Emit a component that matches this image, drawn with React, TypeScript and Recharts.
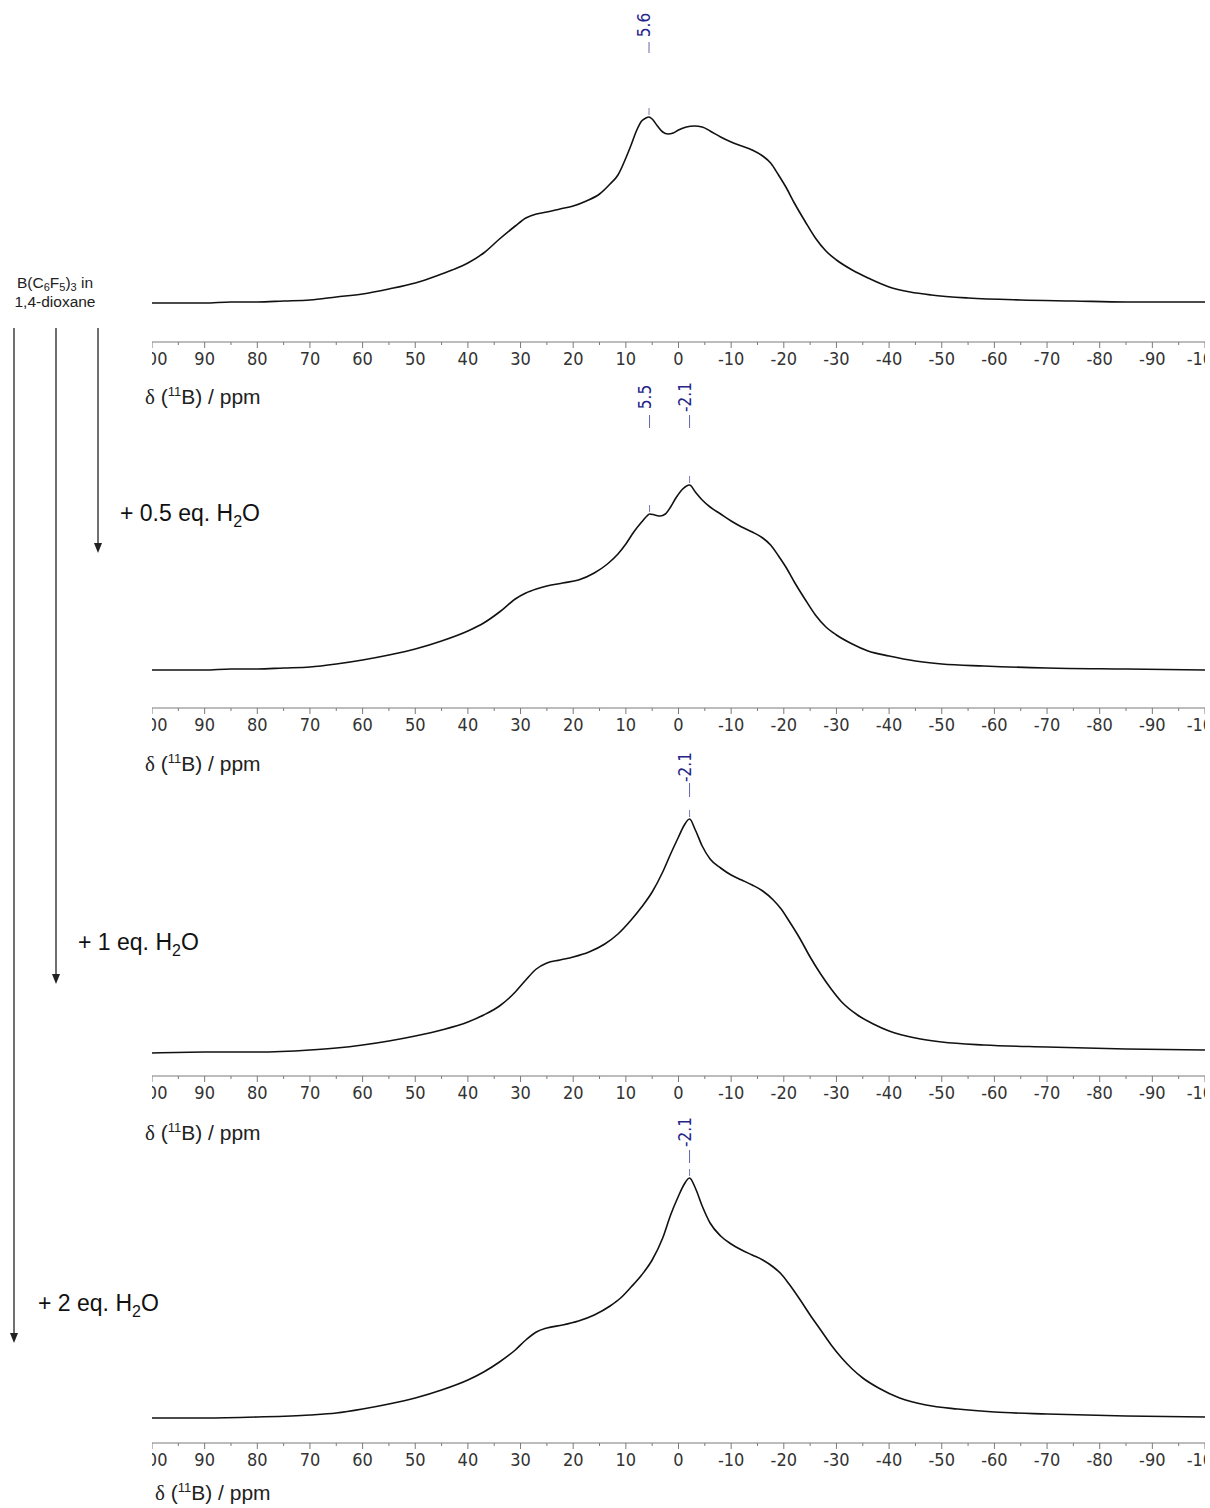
import { LineChart, Line, XAxis, YAxis, ReferenceLine, ReferenceDot } from "recharts";

// 11B NMR spectra of B(C6F5)3 in 1,4-dioxane with increasing amounts of water.
// Chemical shift in ppm, intensity in arbitrary units above the baseline.

const PPM_TICKS = [
  100, 95, 90, 85, 80, 75, 70, 65, 60, 55, 50, 45, 40, 35, 30, 25, 20, 15, 10, 5, 0,
  -5, -10, -15, -20, -25, -30, -35, -40, -45, -50, -55, -60, -65, -70, -75, -80, -85, -90, -95, -100,
];

// neat B(C6F5)3
const SHIFT_A = [100, 95, 90, 85, 80, 75, 70, 65, 60, 55, 50, 46, 43, 40, 37, 34, 31, 29, 27, 25, 22.5, 20, 17.5, 15, 13, 11.5, 10, 9, 8, 7, 6.2, 5.6, 5, 4, 3, 2, 1, 0, -1.5, -3, -4.5, -6, -8, -10, -12, -14, -16, -17.5, -19, -20.5, -22, -24, -26, -28, -30, -33, -36, -40, -44, -48, -55, -65, -75, -85, -100];
const INT_A = [0, 0, 0, 1, 1, 2, 3, 6, 9, 14, 20, 27, 33, 40, 50, 64, 77, 85, 89, 91, 94, 97, 102, 109, 119, 128, 145, 158, 172, 182, 185, 186, 184, 177, 171, 169, 170, 173, 176, 177, 176, 172, 166, 161, 157, 153, 147, 140, 128, 115, 100, 82, 65, 52, 43, 33, 25, 16, 11, 8, 5, 3, 2, 1, 1];
const PEAKS_A = [5.6];

// + 0.5 eq. H2O
const SHIFT_B = [100, 95, 90, 85, 80, 75, 70, 65, 60, 55, 50, 45, 40, 37, 34, 31, 29, 27, 25, 22, 19, 16, 13.5, 11.5, 10, 8.5, 7, 6, 5.5, 4.5, 3.5, 2.5, 1.5, 0.5, -0.8, -2.1, -3.2, -4.5, -6, -8, -10, -12, -14, -16, -17.5, -19, -20.5, -22, -24, -26, -28, -30, -33, -36, -40, -45, -50, -58, -70, -85, -100];
const INT_B = [0, 0, 0, 1, 1, 2, 3, 6, 10, 15, 21, 29, 39, 47, 58, 71, 77, 81, 84, 87, 90, 97, 106, 116, 126, 138, 148, 154, 156, 155, 154, 156, 163, 172, 181, 185, 178, 170, 163, 156, 149, 143, 138, 132, 125, 114, 102, 88, 71, 55, 43, 35, 26, 19, 14, 9, 6, 4, 2, 1, 0];
const PEAKS_B = [5.5, -2.1];

// + 1 eq. H2O
const SHIFT_C = [100, 90, 80, 70, 65, 60, 55, 50, 45, 40, 37, 34, 31, 29, 27, 25, 22.5, 20, 17, 14, 11.5, 9, 7, 5, 3, 1.5, 0, -1, -2.1, -3.2, -4.5, -6, -8, -10, -12, -14, -16, -18, -19.5, -21, -23, -25, -27, -29, -31, -34, -37, -40, -45, -50, -58, -70, -85, -100];
const INT_C = [-1, 0, 0, 2, 4, 7, 11, 16, 22, 30, 37, 46, 60, 72, 83, 89, 92, 95, 100, 108, 118, 132, 145, 160, 180, 198, 215, 226, 233, 222, 206, 193, 184, 177, 172, 167, 161, 152, 143, 131, 114, 95, 78, 63, 50, 37, 28, 21, 14, 10, 7, 5, 3, 2];
const PEAKS_C = [-2.1];

// + 2 eq. H2O
const SHIFT_D = [100, 90, 80, 70, 65, 60, 55, 50, 45, 40, 37, 34, 31, 29, 27, 25, 22, 19, 16, 13, 11, 9, 7, 5, 3, 1.5, 0, -1, -2.1, -3.2, -4.5, -6, -8, -10, -12, -14, -16, -18, -19.5, -21, -23, -25, -27, -29, -31, -33, -35, -38, -42, -47, -53, -60, -70, -85, -100];
const INT_D = [0, 0, 1, 3, 5, 9, 14, 20, 28, 38, 46, 56, 68, 78, 86, 90, 93, 97, 103, 112, 120, 131, 143, 158, 180, 203, 222, 233, 240, 230, 212, 195, 182, 174, 168, 163, 158, 151, 144, 134, 119, 103, 88, 73, 60, 49, 40, 30, 20, 13, 9, 6, 4, 2, 1];
const PEAKS_D = [-2.1];

const PLOT_LEFT = 152;
const PLOT_WIDTH = 1053;
const AXIS_SPACE = 40;
const LABEL_BLUE = "#24248a";
const TICK_FONT = "'Liberation Sans Narrow', 'DejaVu Sans Condensed', 'Arial Narrow', sans-serif";
const TEXT_FONT = "'Liberation Sans', Arial, sans-serif";

const panels = [
  { shift: SHIFT_A, intensity: INT_A, peaks: PEAKS_A, top: 0, axisY: 342, baseY: 303, textY: 25, lineTop: 42, lineBot: 53 },
  { shift: SHIFT_B, intensity: INT_B, peaks: PEAKS_B, top: 370, axisY: 708, baseY: 670, textY: 397, lineTop: 415, lineBot: 428 },
  { shift: SHIFT_C, intensity: INT_C, peaks: PEAKS_C, top: 740, axisY: 1076, baseY: 1052, textY: 767, lineTop: 783, lineBot: 797 },
  { shift: SHIFT_D, intensity: INT_D, peaks: PEAKS_D, top: 1105, axisY: 1443, baseY: 1418, textY: 1132, lineTop: 1150, lineBot: 1163 },
];

function AxisTick(props: any) {
  const { x, y, payload } = props;
  const v = payload.value as number;
  const major = v % 10 === 0;
  return (
    <g>
      <line x1={x} x2={x} y1={y} y2={y + (major ? 6 : 3)} stroke="#7a7a7a" strokeWidth={1} />
      {major && (
        <text x={x} y={y + 23} textAnchor="middle" fontSize={18} fontFamily={TICK_FONT} fill="#333">
          {v}
        </text>
      )}
    </g>
  );
}

function Spectrum({ panel }: { panel: (typeof panels)[number] }) {
  const { shift, intensity, peaks, top, axisY, baseY, textY, lineTop, lineBot } = panel;
  const data = shift.map((ppm, i) => ({ ppm, value: intensity[i] }));
  const height = axisY - top + AXIS_SPACE;
  const toY = (px: number) => baseY - px;

  return (
    <div style={{ position: "absolute", left: PLOT_LEFT, top, width: PLOT_WIDTH, height, overflow: "hidden" }}>
      <LineChart width={PLOT_WIDTH} height={height} data={data} margin={{ top: 0, right: 0, bottom: 0, left: 0 }}>
        <XAxis
          type="number"
          dataKey="ppm"
          domain={[-100, 100]}
          reversed
          ticks={PPM_TICKS}
          interval={0}
          height={AXIS_SPACE}
          tickSize={0}
          tickMargin={0}
          tickLine={false}
          axisLine={{ stroke: "#7a7a7a", strokeWidth: 1 }}
          tick={<AxisTick />}
          allowDataOverflow
        />
        <YAxis hide type="number" domain={[toY(axisY), toY(top)]} allowDataOverflow />
        <Line
          type="monotone"
          dataKey="value"
          stroke="#111"
          strokeWidth={1.6}
          dot={false}
          isAnimationActive={false}
        />
        {peaks.map((p) => {
          const h = intensity[shift.indexOf(p)];
          return [
            <ReferenceLine
              key={`pk-${p}`}
              segment={[{ x: p, y: h + 2 }, { x: p, y: h + 9 }]}
              stroke={LABEL_BLUE}
              strokeOpacity={0.6}
              ifOverflow="visible"
            />,
            <ReferenceLine
              key={`lb-${p}`}
              segment={[{ x: p, y: toY(lineTop) }, { x: p, y: toY(lineBot) }]}
              stroke={LABEL_BLUE}
              strokeOpacity={0.7}
              ifOverflow="visible"
            />,
            <ReferenceDot
              key={`tx-${p}`}
              x={p}
              y={toY(textY)}
              r={0}
              ifOverflow="visible"
              shape={(s: any) => (
                <text
                  x={s.cx + 1}
                  y={s.cy}
                  transform={`rotate(-90 ${s.cx + 1} ${s.cy})`}
                  textAnchor="middle"
                  fontSize={17}
                  fontFamily={TICK_FONT}
                  fill={LABEL_BLUE}
                >
                  {p.toFixed(1)}
                </text>
              )}
            />,
          ];
        })}
      </LineChart>
    </div>
  );
}

function AxisTitle({ left, top }: { left: number; top: number }) {
  return (
    <div style={{ position: "absolute", left, top, fontSize: 21, lineHeight: "24px", fontFamily: TEXT_FONT, color: "#222", whiteSpace: "nowrap" }}>
      <span style={{ fontFamily: "'Liberation Serif', serif" }}>δ</span> (<sup style={{ fontSize: 13 }}>11</sup>B) / ppm
    </div>
  );
}

function WaterLabel({ left, top, eq }: { left: number; top: number; eq: string }) {
  return (
    <div style={{ position: "absolute", left, top, fontSize: 23, lineHeight: "28px", fontFamily: TEXT_FONT, color: "#111", whiteSpace: "nowrap" }}>
      + {eq} eq. H<sub style={{ fontSize: 16 }}>2</sub>O
    </div>
  );
}

const subStyle = { fontSize: 11, verticalAlign: "baseline", position: "relative" as const, top: 3 };

export default function App() {
  const arrows = [
    { x: 98, y2: 553 },
    { x: 56, y2: 984 },
    { x: 14, y2: 1343 },
  ];
  return (
    <div style={{ position: "absolute", left: 0, top: 0, width: 1210, height: 1508, background: "#fff" }}>
      {panels.map((p, i) => (
        <Spectrum key={i} panel={p} />
      ))}

      <AxisTitle left={145} top={380} />
      <AxisTitle left={145} top={747} />
      <AxisTitle left={145} top={1116} />
      <AxisTitle left={155} top={1476} />

      <div style={{ position: "absolute", left: 5, top: 274, width: 100, textAlign: "center", fontSize: 15.5, lineHeight: "17px", fontFamily: TEXT_FONT, color: "#222" }}>
        B(C<span style={subStyle}>6</span>F<span style={subStyle}>5</span>)<span style={subStyle}>3</span> in
        <br />
        1,4-dioxane
      </div>

      <WaterLabel left={120} top={499} eq="0.5" />
      <WaterLabel left={78} top={928} eq="1" />
      <WaterLabel left={38} top={1289} eq="2" />

      <svg width={1210} height={1508} style={{ position: "absolute", left: 0, top: 0, pointerEvents: "none" }}>
        {arrows.map((a) => (
          <g key={a.x}>
            <line x1={a.x} x2={a.x} y1={328} y2={a.y2 - 8} stroke="#222" strokeWidth={1.3} />
            <polygon points={`${a.x - 4},${a.y2 - 10} ${a.x + 4},${a.y2 - 10} ${a.x},${a.y2}`} fill="#222" />
          </g>
        ))}
      </svg>
    </div>
  );
}
